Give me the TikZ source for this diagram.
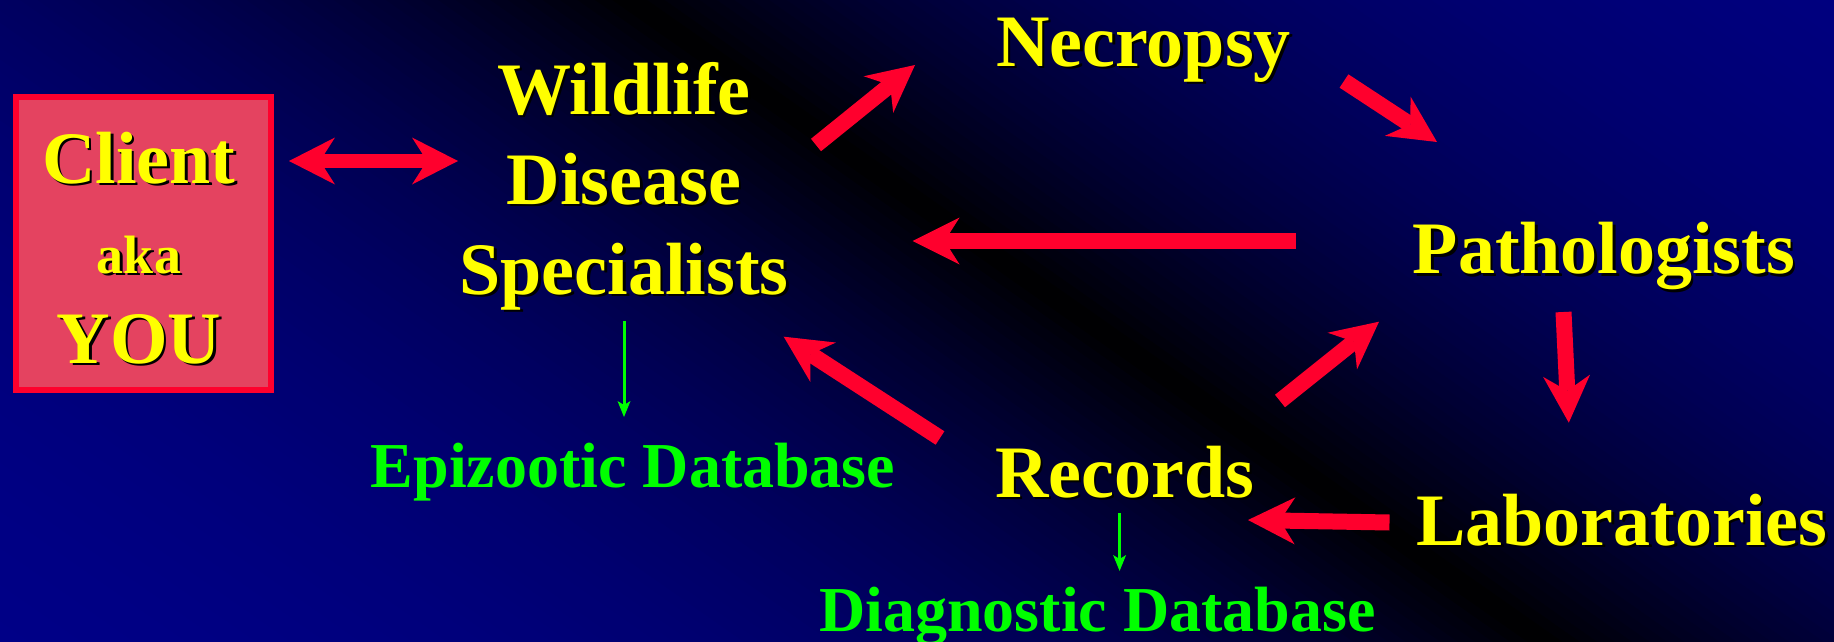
\documentclass[tikz,border=0pt]{standalone}
\usepackage{fontspec}
\setmainfont{Liberation Serif}
\usetikzlibrary{arrows.meta}
\definecolor{arrred}{RGB}{255,0,45}
\definecolor{boxfill}{RGB}{228,67,96}
\definecolor{txtyellow}{RGB}{255,255,0}
\definecolor{grn}{RGB}{0,255,0}
\definecolor{bgbase}{RGB}{0,0,100}
\newcommand{\shd}[1]{\leavevmode\rlap{\kern2.5pt\raisebox{-2.5pt}{\color{black}#1}}#1}
\tikzset{
  lbl/.style={font=\fontsize{74}{90}\selectfont\bfseries, text=txtyellow, inner sep=0pt, align=center},
  dblbl/.style={font=\fontsize{64}{76}\selectfont\bfseries, text=grn, inner sep=0pt},
  bigarrow/.style={draw=arrred, line width=16pt, -{Stealth[length=47pt,width=47pt,inset=15pt,line width=0pt]}},
  dblarrow/.style={draw=arrred, line width=14pt, {Stealth[length=46pt,width=47pt,inset=15pt,line width=0pt]}-{Stealth[length=46pt,width=47pt,inset=15pt,line width=0pt]}},
  grnarrow/.style={draw=grn, line width=3pt, -{Stealth[length=16pt,width=13pt,inset=4pt,line width=0pt]}},
}
\begin{document}
\begin{tikzpicture}[x=1pt,y=-1pt]
\useasboundingbox (0,0) rectangle (1834,642);
% background gradient
\begin{scope}
\clip (0,0) rectangle (1834,642);
\fill[bgbase] (0,0) rectangle (1834,642);
\foreach \k in {-75,...,94} {
  \pgfmathsetmacro\da{\k*10}
  \pgfmathsetmacro\db{\k*10+10.8}
  \pgfmathtruncatemacro\bl{round(145*(1-exp(-abs(\k*10+5)/330)))}
  \definecolor{bgs}{RGB}{0,0,\bl}
  \fill[bgs] ({1200-0.575*\da-1640},{400+0.818*\da-1150})
    -- ({1200-0.575*\da+1640},{400+0.818*\da+1150})
    -- ({1200-0.575*\db+1640},{400+0.818*\db+1150})
    -- ({1200-0.575*\db-1640},{400+0.818*\db-1150}) -- cycle;
}
\end{scope}
% client box
\node[draw=arrred, fill=boxfill, line width=6pt, minimum width=255pt, minimum height=293pt, inner sep=0pt] (client) at (143.5,243.5) {};
\node[lbl, anchor=base] (clienttext) at (139,363) {\shd{Client}\\{\fontsize{54}{90}\selectfont\shd{aka}}\\\shd{YOU}};
% labels
\node[lbl, anchor=base] (wds) at (624,294) {\shd{Wildlife}\\\shd{Disease}\\\shd{Specialists}};
\node[lbl, anchor=base] (necropsy) at (1143.5,66.5) {\shd{Necropsy}};
\node[lbl, anchor=base] (path) at (1604,273.5) {\shd{Pathologists}};
\node[lbl, anchor=base] (labs) at (1622,545) {\shd{Laboratories}};
\node[lbl, anchor=base] (records) at (1124.5,497) {\shd{Records}};
\node[dblbl, anchor=base] (epi) at (633,487) {Epizootic Database};
\node[dblbl, anchor=base] (diag) at (1097.5,631) {Diagnostic Database};
% arrow end points
\coordinate (c2w-a) at (289,161);
\coordinate (c2w-b) at (458,161);
\coordinate (w2n-a) at (816,145);
\coordinate (w2n-b) at (915,65);
\coordinate (n2p-a) at (1344,81);
\coordinate (n2p-b) at (1437,142);
\coordinate (p2w-a) at (1295.5,241);
\coordinate (p2w-b) at (912.6,241);
\coordinate (r2w-a) at (940,438);
\coordinate (r2w-b) at (783.7,336.7);
\coordinate (r2p-a) at (1280,401);
\coordinate (r2p-b) at (1379,321.7);
\coordinate (p2l-a) at (1563.5,312);
\coordinate (p2l-b) at (1568.8,422.7);
\coordinate (l2r-a) at (1389.5,522.5);
\coordinate (l2r-b) at (1248,520);
\coordinate (w2e-a) at (624,321);
\coordinate (w2e-b) at (624,417);
\coordinate (r2d-a) at (1119.6,513);
\coordinate (r2d-b) at (1119.6,571);
% arrows
\draw[dblarrow] (c2w-a) -- (c2w-b);
\draw[bigarrow] (w2n-a) -- (w2n-b);
\draw[bigarrow] (n2p-a) -- (n2p-b);
\draw[bigarrow] (p2w-a) -- (p2w-b);
\draw[bigarrow] (r2w-a) -- (r2w-b);
\draw[bigarrow] (r2p-a) -- (r2p-b);
\draw[bigarrow] (p2l-a) -- (p2l-b);
\draw[bigarrow] (l2r-a) -- (l2r-b);
\draw[grnarrow] (w2e-a) -- (w2e-b);
\draw[grnarrow] (r2d-a) -- (r2d-b);
\end{tikzpicture}
\end{document}
